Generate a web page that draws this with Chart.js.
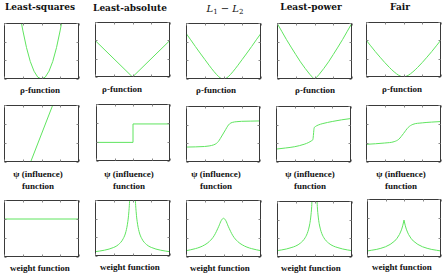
<!DOCTYPE html>
<html>
<head>
<meta charset="utf-8">
<script src="https://cdn.jsdelivr.net/npm/chart.js@4.4.1/dist/chart.umd.min.js"></script>
<style>
  html, body { margin: 0; padding: 0; background: #fff; }
  #wrap { position: relative; width: 446px; height: 279px; overflow: hidden; }
  #wrap canvas { position: absolute; }
  .title, .cap {
    position: absolute;
    transform: translateX(-50%);
    white-space: nowrap;
    color: #111;
    line-height: 12px;
  }
  .title { font: bold 9px "DejaVu Serif", serif; }
  .title.math { font: italic 10px "DejaVu Serif", serif; font-weight: normal; }
  .title sub { font-size: 7px; font-style: normal; vertical-align: -2px; }
  .cap { font: bold 9px "Liberation Serif", serif; }
</style>
</head>
<body>
<div id="wrap"></div>
<script>
// ----- data (x from 0 to 4, y from 0 to 3) -----
const xTicks = [0, 1, 2, 3, 4];
const yTicks = [0, 1, 2, 3];

const titles = ["Least-squares", "Least-absolute", "L1 - L2", "Least-power", "Fair"];
const rowCaptions = [["\u03c1-function"], ["\u03c8 (influence)", "function"], ["weight function"]];

// shared grid for the smooth symmetric curves
const grid = [0, 0.25, 0.5, 0.75, 1, 1.25, 1.5, 1.75, 1.875, 2, 2.125, 2.25, 2.5, 2.75, 3, 3.25, 3.5, 3.75, 4];

// row 1: rho-function
const lsRhoX = [0.9, 1.0, 1.2, 1.4, 1.6, 1.8, 2.0, 2.2, 2.4, 2.6, 2.8, 3.0, 3.1];
const lsRhoY = [3.17, 2.62, 1.68, 0.94, 0.42, 0.10, 0, 0.10, 0.42, 0.94, 1.68, 2.62, 3.17];
const laRhoX = [0, 2, 4];
const laRhoY = [2.0, 0, 2.0];
const l12RhoY = [2.45, 2.10, 1.74, 1.39, 1.05, 0.71, 0.39, 0.12, 0.03, 0, 0.03, 0.12, 0.39, 0.71, 1.05, 1.39, 1.74, 2.10, 2.45];
const lpRhoY = [3.0, 2.56, 2.12, 1.71, 1.31, 0.92, 0.57, 0.25, 0.11, 0, 0.11, 0.25, 0.57, 0.92, 1.31, 1.71, 2.12, 2.56, 3.0];
const fairRhoY = [2.02, 1.70, 1.38, 1.08, 0.79, 0.52, 0.28, 0.09, 0.03, 0, 0.03, 0.09, 0.28, 0.52, 0.79, 1.08, 1.38, 1.70, 2.02];

// row 2: psi (influence) function
const lsPsiX = [1.42, 2.6];
const lsPsiY = [0, 3];
const laPsiX = [0, 2, 2, 4];
const laPsiY = [0.98, 0.98, 1.95, 1.95];
const l12PsiX = [0, 0.5, 1, 1.25, 1.5, 1.65, 1.75, 1.85, 2, 2.15, 2.25, 2.35, 2.5, 2.75, 3, 3.5, 4];
const l12PsiY = [0.8, 0.81, 0.83, 0.86, 0.92, 1.0, 1.1, 1.25, 1.5, 1.75, 1.92, 2.04, 2.12, 2.16, 2.18, 2.19, 2.2];
const lpPsiX = [0, 0.5, 1, 1.5, 1.75, 1.9, 1.97, 2, 2.03, 2.1, 2.25, 2.5, 3, 3.5, 4];
const lpPsiY = [0.69, 0.75, 0.82, 0.95, 1.05, 1.14, 1.22, 1.5, 1.8, 1.9, 1.98, 2.06, 2.17, 2.26, 2.33];
const fairPsiX = [0, 0.5, 1, 1.5, 1.75, 2, 2.25, 2.5, 3, 3.5, 4];
const fairPsiY = [0.93, 0.96, 1.0, 1.07, 1.2, 1.5, 1.82, 1.98, 2.06, 2.1, 2.13];

// row 3: weight function
const lsWX = [0, 4];
const lsWY = [2, 2];
const laWX = [0, 0.5, 1, 1.25, 1.5, 1.65, 1.75, 1.8, 1.85, 1.9, 2.1, 2.15, 2.2, 2.25, 2.35, 2.5, 2.75, 3, 3.5, 4];
const laWY = [0.23, 0.31, 0.46, 0.61, 0.92, 1.31, 1.84, 2.3, 3.07, 4.6, 4.6, 3.07, 2.3, 1.84, 1.31, 0.92, 0.61, 0.46, 0.31, 0.23];
const l12WY = [0.33, 0.38, 0.44, 0.52, 0.64, 0.82, 1.12, 1.62, 1.91, 2.04, 1.91, 1.62, 1.12, 0.82, 0.64, 0.52, 0.44, 0.38, 0.33];
const lpWX = [0, 0.25, 0.5, 0.75, 1, 1.25, 1.5, 1.65, 1.75, 1.8, 1.85, 1.9, 2.1, 2.15, 2.2, 2.25, 2.35, 2.5, 2.75, 3, 3.25, 3.5, 3.75, 4];
const lpWY = [0.34, 0.38, 0.43, 0.50, 0.59, 0.745, 1.03, 1.37, 1.79, 2.14, 2.7, 3.73, 3.73, 2.7, 2.14, 1.79, 1.37, 1.03, 0.745, 0.59, 0.50, 0.43, 0.38, 0.34];
const fairWX = [0, 0.25, 0.5, 0.75, 1, 1.25, 1.5, 1.625, 1.75, 1.8125, 1.875, 1.9375, 2, 2.0625, 2.125, 2.1875, 2.25, 2.375, 2.5, 2.75, 3, 3.25, 3.5, 3.75, 4];
const fairWY = [0.31, 0.35, 0.39, 0.45, 0.53, 0.65, 0.83, 0.97, 1.16, 1.29, 1.44, 1.645, 1.91, 1.645, 1.44, 1.29, 1.16, 0.97, 0.83, 0.65, 0.53, 0.45, 0.39, 0.35, 0.31];

// ----- layout -----
// [left, top, width, height] of each plot box, row by row
const boxes = [
  [[4, 23, 75, 56], [95, 22, 75, 55], [186, 23, 75, 56], [277, 23, 75, 56], [366, 22, 75, 55]],
  [[4, 105, 75, 57], [96, 104, 74, 57], [186, 106, 74, 56], [276, 106, 75, 56], [366, 105, 75, 57]],
  [[4, 200, 75, 57], [95, 200, 75, 56], [186, 200, 75, 57], [277, 201, 75, 56], [367, 199, 74, 58]]
];
const titlePos = [[40, 2], [130, 3], [225, 3], [311, 2], [400, 2]];
const capPos = [
  [[40, 85], [122, 84], [216, 85], [315, 85], [402, 84]],
  [[38, 169], [129, 169], [216, 169], [310, 169], [401, 169]],
  [[40, 263], [130, 262], [220, 263], [311, 263], [402, 262]]
];

const panels = [
  [[lsRhoX, lsRhoY, true], [laRhoX, laRhoY, true], [grid, l12RhoY], [grid, lpRhoY], [grid, fairRhoY]],
  [[lsPsiX, lsPsiY, true], [laPsiX, laPsiY, true], [l12PsiX, l12PsiY], [lpPsiX, lpPsiY], [fairPsiX, fairPsiY]],
  [[lsWX, lsWY, true], [laWX, laWY], [grid, l12WY], [lpWX, lpWY], [fairWX, fairWY, true]]
];

const wrap = document.getElementById("wrap");
const PAD = 2;

// box with small inward ticks, matlab style
const framePlugin = {
  id: "frame",
  afterDatasetsDraw(chart) {
    const { ctx, chartArea: a, scales } = chart;
    const l = Math.round(a.left) + 0.5, r = Math.round(a.right) - 0.5;
    const t = Math.round(a.top) + 0.5, b = Math.round(a.bottom) - 0.5;
    ctx.save();
    ctx.strokeStyle = "#3a3a3a";
    ctx.lineWidth = 1;
    ctx.strokeRect(l, t, r - l, b - t);
    ctx.strokeStyle = "#888";
    ctx.beginPath();
    xTicks.forEach(v => {
      const px = Math.round(scales.x.getPixelForValue(v)) + 0.5;
      ctx.moveTo(px, b); ctx.lineTo(px, b - 2);
      ctx.moveTo(px, t); ctx.lineTo(px, t + 2);
    });
    yTicks.forEach(v => {
      const py = Math.round(scales.y.getPixelForValue(v)) + 0.5;
      ctx.moveTo(l, py); ctx.lineTo(l + 2, py);
      ctx.moveTo(r, py); ctx.lineTo(r - 2, py);
    });
    ctx.stroke();
    ctx.restore();
  }
};

function addText(cls, html, x, y) {
  const el = document.createElement("div");
  el.className = cls;
  el.innerHTML = html;
  el.style.left = x + "px";
  el.style.top = y + "px";
  wrap.appendChild(el);
}

titles.forEach((t, i) => {
  if (i === 2) {
    addText("title math", "L<sub>1</sub> \u2212 L<sub>2</sub>", titlePos[i][0], titlePos[i][1]);
  } else {
    addText("title", t, titlePos[i][0], titlePos[i][1]);
  }
});

panels.forEach((row, r) => {
  row.forEach((p, c) => {
    const [xs, ys, straight] = p;
    const [bx, by, bw, bh] = boxes[r][c];
    const canvas = document.createElement("canvas");
    canvas.width = bw + PAD * 2;
    canvas.height = bh + PAD * 2;
    canvas.style.left = (bx - PAD) + "px";
    canvas.style.top = (by - PAD) + "px";
    wrap.appendChild(canvas);

    new Chart(canvas, {
      type: "line",
      data: {
        datasets: [{
          data: xs.map((x, i) => ({ x: x, y: ys[i] })),
          borderColor: "rgb(95, 228, 95)",
          borderWidth: 1,
          pointRadius: 0,
          fill: false,
          cubicInterpolationMode: straight ? "default" : "monotone",
          tension: straight ? 0 : 0.4
        }]
      },
      options: {
        responsive: false,
        animation: false,
        layout: { padding: PAD },
        plugins: { legend: { display: false }, tooltip: { enabled: false } },
        scales: {
          x: { type: "linear", min: 0, max: 4, display: false },
          y: { type: "linear", min: 0, max: 3, display: false }
        }
      },
      plugins: [framePlugin]
    });

    rowCaptions[r].forEach((txt, k) => {
      addText("cap", txt, capPos[r][c][0], capPos[r][c][1] + k * 12);
    });
  });
});
</script>
</body>
</html>
